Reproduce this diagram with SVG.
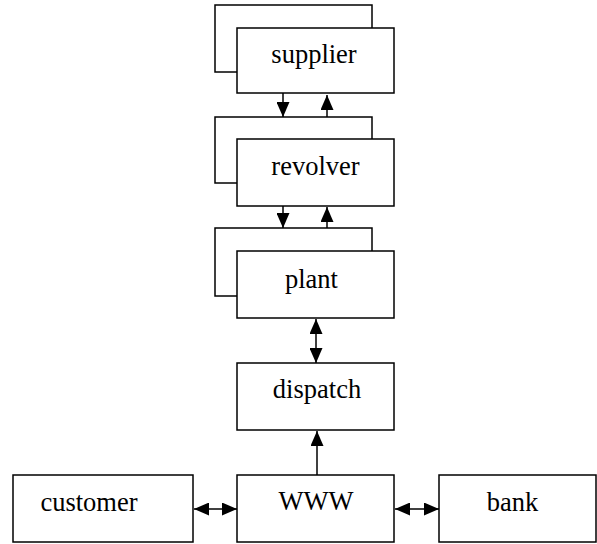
<svg xmlns="http://www.w3.org/2000/svg" width="597" height="544" viewBox="0 0 597 544">
<style>
.b{fill:#fff;stroke:#000;stroke-width:1.5}
.t{font-family:"Liberation Serif","Times New Roman",serif;font-size:26.5px;fill:#000;text-anchor:middle}
.c{stroke:#000;stroke-width:1.5;fill:none}
</style>
<defs>
<marker id="ah" markerUnits="userSpaceOnUse" markerWidth="15" markerHeight="13" refX="15" refY="6.5" orient="auto-start-reverse">
<path d="M0,0 L15,6.5 L0,13 Z" fill="#000"/>
</marker>
</defs>
<rect width="597" height="544" fill="#fff"/>
<g id="supplier">
<rect class="b" x="215" y="5" width="157" height="67"/>
<rect class="b" x="237" y="28" width="157" height="65"/>
<text class="t" x="314" y="63">supplier</text>
</g>
<g id="revolver">
<rect class="b" x="215" y="117" width="157" height="66"/>
<rect class="b" x="237" y="139" width="157" height="67"/>
<text class="t" x="315.5" y="175">revolver</text>
</g>
<g id="plant">
<rect class="b" x="215" y="228" width="157" height="68"/>
<rect class="b" x="237" y="251" width="157" height="67"/>
<text class="t" x="311.5" y="288">plant</text>
</g>
<g id="dispatch">
<rect class="b" x="237" y="363" width="157" height="67"/>
<text class="t" x="317" y="398">dispatch</text>
</g>
<g id="www">
<rect class="b" x="237" y="475" width="157" height="67"/>
<text class="t" x="316" y="510">WWW</text>
</g>
<g id="customer">
<rect class="b" x="13" y="475" width="180" height="67"/>
<text class="t" x="89" y="511">customer</text>
</g>
<g id="bank">
<rect class="b" x="439" y="475" width="157" height="67"/>
<text class="t" x="512.5" y="511">bank</text>
</g>
<g id="connectors">
<line class="c" x1="283" y1="93" x2="283" y2="117" marker-end="url(#ah)"/>
<line class="c" x1="327" y1="117" x2="327" y2="95" marker-end="url(#ah)"/>
<line class="c" x1="283" y1="206" x2="283" y2="228" marker-end="url(#ah)"/>
<line class="c" x1="327" y1="228" x2="327" y2="207" marker-end="url(#ah)"/>
<line class="c" x1="316" y1="319" x2="316" y2="363" marker-start="url(#ah)" marker-end="url(#ah)"/>
<line class="c" x1="317" y1="475" x2="317" y2="431" marker-end="url(#ah)"/>
<line class="c" x1="194" y1="509" x2="237" y2="509" marker-start="url(#ah)" marker-end="url(#ah)"/>
<line class="c" x1="395" y1="509" x2="439" y2="509" marker-start="url(#ah)" marker-end="url(#ah)"/>
</g>
</svg>
